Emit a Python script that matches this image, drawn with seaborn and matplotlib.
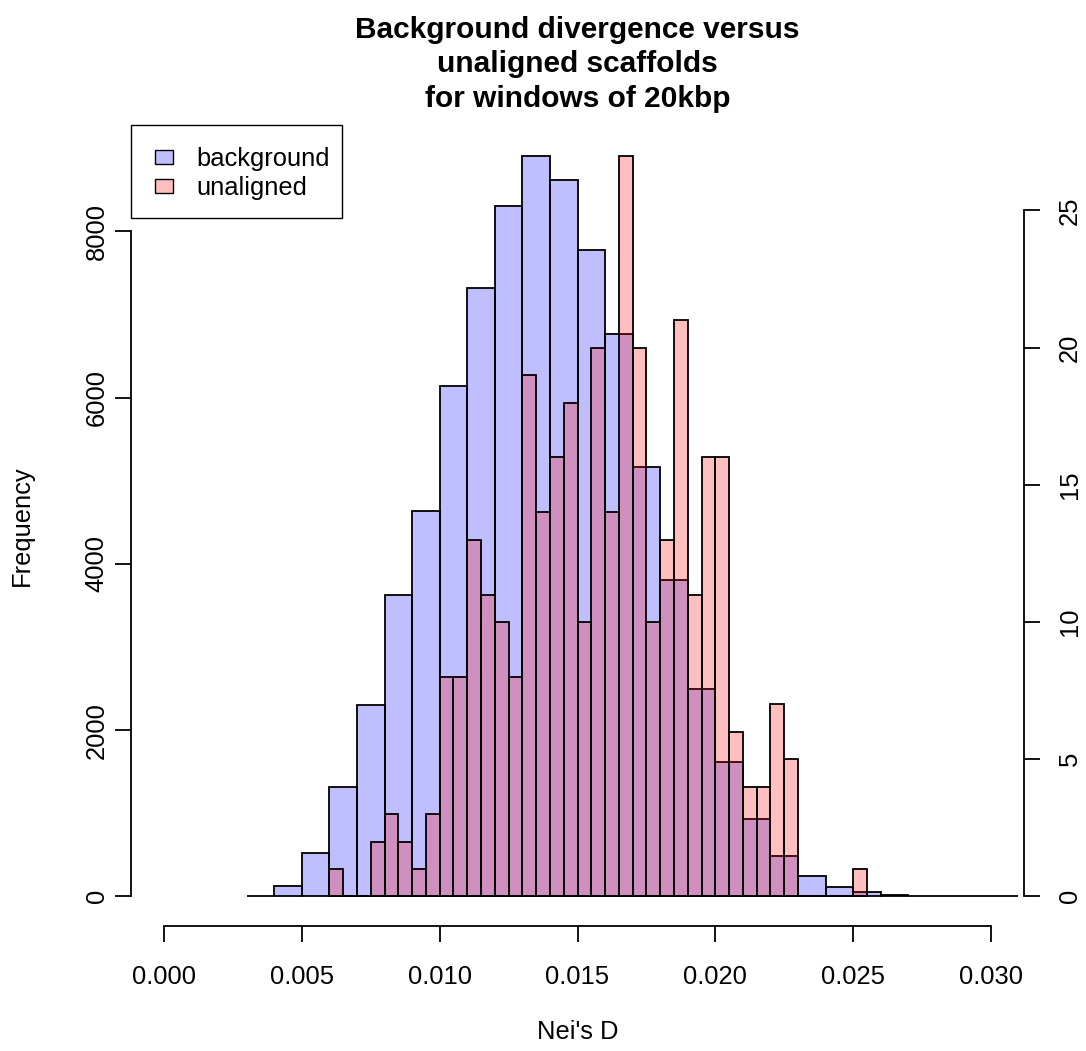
import numpy as np
import pandas as pd
import matplotlib
matplotlib.use("Agg")
import matplotlib.pyplot as plt
from matplotlib.patches import Patch, Rectangle
import seaborn as sns

# Background windows: counts per 0.001-wide bin of Nei's D, starting at 0.003
background_start = 0.003
background_width = 0.001
background_counts = [2, 130, 520, 1310, 2300, 3620, 4640, 6140, 7320, 8310,
                     8910, 8620, 7780, 6770, 5160, 3800, 2500, 1620, 930, 480,
                     245, 108, 52, 20, 8, 5, 0, 3]

# Unaligned scaffolds: counts per 0.0005-wide bin, starting at 0.006
unaligned_start = 0.006
unaligned_width = 0.0005
unaligned_counts = [1, 0, 0, 2, 3, 2, 1, 3, 8, 8,
                    13, 11, 10, 8, 19, 14, 16, 18, 10, 20,
                    14, 27, 20, 10, 13, 21, 11, 16, 16, 6,
                    4, 4, 7, 5, 0, 0, 0, 0, 1]

x_ticks = [0.000, 0.005, 0.010, 0.015, 0.020, 0.025, 0.030]
left_ticks = [0, 2000, 4000, 6000, 8000]
right_ticks = [0, 5, 10, 15, 20, 25]

title = "Background divergence versus\nunaligned scaffolds\nfor windows of 20kbp"
series_labels = ["background", "unaligned"]

sns.set_theme(style="white")
plt.rcParams["font.family"] = ["Liberation Sans", "DejaVu Sans"]
plt.rcParams["text.color"] = "black"

W, H = 1086, 1051
fig = plt.figure(figsize=(W / 100, H / 100), dpi=100)
fig.patch.set_facecolor("white")

left_px, right_px, top_px, bottom_px = 131, 1024, 126, 926
ax = fig.add_axes([left_px / W, 1 - bottom_px / H,
                   (right_px - left_px) / W, (bottom_px - top_px) / H])
ax.set_facecolor("none")


def binned_frame(start, width, counts):
    n = len(counts)
    edges = start + width * np.arange(n + 1)
    mids = (edges[:-1] + edges[1:]) / 2
    return pd.DataFrame({"d": mids, "n": counts}), [float(e) for e in edges]


b_df, b_edges = binned_frame(background_start, background_width, background_counts)
u_df, u_edges = binned_frame(unaligned_start, unaligned_width, unaligned_counts)

blue_fill = (0, 0, 1, 0.25)
red_fill = (1, 0, 0, 0.25)
edge_lw = 1.3

sns.histplot(data=b_df, x="d", weights="n", bins=b_edges, ax=ax,
             color="blue", alpha=0.25, edgecolor="black", linewidth=edge_lw)

ax2 = ax.twinx()
ax2.set_facecolor("none")
sns.histplot(data=u_df, x="d", weights="n", bins=u_edges, ax=ax2,
             color="red", alpha=0.25, edgecolor="black", linewidth=edge_lw)

xlo, xhi = 0.0, 0.030
pad_x = 0.04 * (xhi - xlo)
ax.set_xlim(xlo - pad_x, xhi + pad_x)
ax2.set_xlim(xlo - pad_x, xhi + pad_x)

bmax = max(background_counts)
umax = max(unaligned_counts)
ax.set_ylim(-0.04 * bmax, 1.04 * bmax)
ax2.set_ylim(-0.04 * umax, 1.04 * umax)

fs = 18.4
spine_lw = 1.3
tick_len = 11.5

for a in (ax, ax2):
    for s in a.spines.values():
        s.set_visible(False)
    a.grid(False)

ax.spines["left"].set_visible(True)
ax.spines["left"].set_bounds(left_ticks[0], left_ticks[-1])
ax.spines["bottom"].set_visible(True)
ax.spines["bottom"].set_bounds(x_ticks[0], x_ticks[-1])
ax2.spines["right"].set_visible(True)
ax2.spines["right"].set_bounds(right_ticks[0], right_ticks[-1])
for s in (ax.spines["left"], ax.spines["bottom"], ax2.spines["right"]):
    s.set_color("black")
    s.set_linewidth(spine_lw)

ax.set_xticks(x_ticks)
ax.set_xticklabels([f"{v:.3f}" for v in x_ticks])
ax.set_yticks(left_ticks)
ax.set_yticklabels([str(v) for v in left_ticks], rotation=90, va="center")
ax2.set_yticks(right_ticks)
ax2.set_yticklabels([str(v) for v in right_ticks], rotation=90, va="center")

ax.tick_params(axis="x", direction="out", length=tick_len, width=spine_lw,
               color="black", labelsize=fs, labelcolor="black", pad=16.5,
               bottom=True)
ax.tick_params(axis="y", direction="out", length=tick_len, width=spine_lw,
               color="black", labelsize=fs, labelcolor="black", pad=4.5,
               left=True)
ax2.tick_params(axis="y", direction="out", length=tick_len, width=spine_lw,
                color="black", labelsize=fs, labelcolor="black", pad=13,
                right=True)

ax.set_xlabel("Nei's D", fontsize=fs, color="black")
ax.xaxis.set_label_coords(0.5, (bottom_px - 1020) / (bottom_px - top_px))
ax.set_ylabel("Frequency", fontsize=fs, color="black")
ax.yaxis.set_label_coords((34 - left_px) / (right_px - left_px), 0.5)
ax2.set_ylabel("")

fig.text((left_px + right_px) / 2 / W, 1 - 64.5 / H, title, ha="center",
         va="center", fontsize=21.5, fontweight="bold", color="black",
         linespacing=1.285, multialignment="center")

# Legend: boxed key in the top-left corner of the plotting region
frame = Rectangle((131 / W, 1 - 217.5 / H), 211 / W, 92.5 / H,
                  transform=fig.transFigure, facecolor="white",
                  edgecolor="black", linewidth=1.0, clip_on=False, zorder=4)
ax2.add_patch(frame)

handles = [Patch(facecolor=blue_fill, edgecolor="black", linewidth=1.0),
           Patch(facecolor=red_fill, edgecolor="black", linewidth=1.0)]
leg = ax2.legend(handles, series_labels, loc="upper left",
                 bbox_to_anchor=(155 / W, 1 - 147 / H),
                 bbox_transform=fig.transFigure, borderaxespad=0,
                 borderpad=0, fontsize=fs, frameon=False,
                 handlelength=0.7, handleheight=0.48,
                 handletextpad=0.9, labelspacing=0.2, labelcolor="black")
leg.set_zorder(5)

fig.savefig("out.png", dpi=100, facecolor="white")
